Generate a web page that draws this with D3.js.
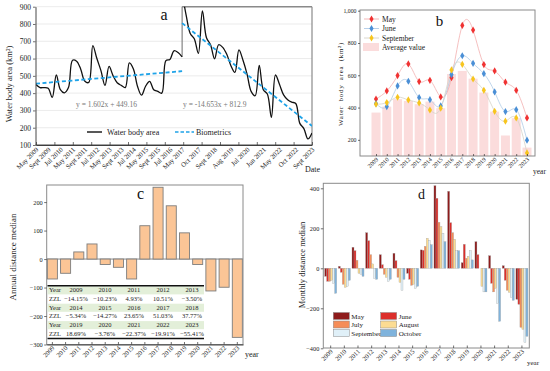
<!DOCTYPE html>
<html><head><meta charset="utf-8">
<script src="https://cdn.jsdelivr.net/npm/d3@7"></script>
<style>body{margin:0;background:#fff}svg{display:block}</style>
</head><body><svg id="chart" width="550" height="371"></svg>
<script>
// ---------------- DATA ----------------
// Panel a
const areaLabels = ["May 2009","Sept 2009","Jul 2010","May 2011","Sept 2011","Jul 2012","May 2013","Sept 2013","Jul 2014","May 2015","Sept 2015","Jul 2016","May 2017","Oct 2017","Sept 2018","Aug 2019","Jul 2020","Jun 2021","May 2022","Oct 2022","Sept 2023"];
const areaLabelIndex = [0,3,6,9,12,15,18,21,24,27,30,33,36,40,44,48,52,56,60,64,68];
const areaEarly = [450,432,432,428,375,505,420,402,432,590,585,540,470,462,675,600,530,445,555,500,460,445,432,575,540,440,388,440,468,420,410,400,588,595,645,635,610];
const areaLate = [980,850,745,715,630,875,720,680,598,680,665,625,560,520,650,590,510,410,385,560,420,395,260,505,450,390,362,348,340,225,195,135,170];
const trendEarlyIdx = [0,36], trendEarlyVal = [455,527];
const trendLateIdx = [36,68], trendLateVal = [805,210];
const aYTicks = [100,200,300,400,500,600,700,800,900];

// Panel b
const years = [2009,2010,2011,2012,2013,2014,2015,2016,2017,2018,2019,2020,2021,2022,2023];
const bMay  = [453,503,598,670,561,569,466,585,909,880,666,627,557,507,336];
const bJune = [425,406,534,563,462,449,410,604,721,674,610,497,375,387,198];
const bSep  = [421,431,464,447,429,385,396,633,668,577,507,377,316,336,119];
const bAvg  = [369,406,452,441,421,437,396,608,627,579,493,375,227,334,152];
const bYTicks = [200,400,600,800,1000];

// Panel c
const cVals = [-70,-50,25,53,-19,-29,-70,117,252,187,92,-19,-112,-99,-275];
const cYTicks = [-300,-200,-100,0,100,200];
const tableYears = [[2009,2010,2011,2012,2013],[2014,2015,2016,2017,2018],[2019,2020,2021,2022,2023]];
const tableZZL = [["−14.15%","−10.23%","4.93%","10.51%","−3.50%"],["−5.34%","−14.27%","23.65%","51.03%","37.77%"],["18.69%","−3.76%","−22.37%","−19.91%","−55.41%"]];

// Panel d
const months = ["May","June","July","August","September","October"];
const dMay  = [-40,10,105,178,68,75,-25,92,413,385,28,133,63,13,-155];
const dJune = [-65,-20,88,138,18,38,-55,90,350,228,120,68,-75,-60,-180];
const dJuly = [-65,-80,40,68,-30,-45,-85,110,230,178,50,0,-118,-110,-295];
const dAug  = [-60,-95,-25,22,-45,-70,-80,150,208,145,60,-90,-100,-120,-305];
const dSep  = [-75,-90,-30,-50,-65,-110,-100,140,175,88,88,-118,-175,-145,-370];
const dOct  = [-125,-60,-40,-55,-55,-55,-90,118,133,88,42,-118,-265,-160,-340];
const dYTicks = [-400,-200,0,200,400];

// ---------------- DRAW ----------------
const serif = '"Liberation Serif","Times New Roman",serif';
const svg = d3.select("#chart").attr("font-family", serif);
const defs = svg.append("defs");
const frameCol = "#8a8a8a";

function styleAxis(sel, size) {
  sel.selectAll("text").attr("font-family", serif).attr("font-size", size).attr("fill", "#222");
  sel.selectAll(".tick line").attr("stroke", "#333").attr("stroke-width", 0.7);
  sel.select(".domain").attr("stroke", "#333").attr("stroke-width", 0.9);
}
function rotLabels(g, data, xf, y, size, txt) {
  g.append("g").selectAll("text").data(data).join("text")
    .attr("transform", d => `translate(${xf(d)},${y}) rotate(-45)`)
    .attr("text-anchor", "end").attr("font-size", size).attr("fill", "#222")
    .text(txt);
}

// ===== Panel a =====
const A = {l: 35.5, r: 312, t: 6.7, b: 145};
const ax = d3.scaleLinear().domain([0, 68]).range([36, 312]);
const ay = d3.scaleLinear().domain([100, 900]).range([A.b, A.t]);
const ga = svg.append("g");
defs.append("clipPath").attr("id", "clipA").append("rect")
  .attr("x", A.l).attr("y", A.t).attr("width", A.r - A.l).attr("height", A.b - A.t);

ga.append("g").selectAll("line").data(aYTicks.filter(v => v > 100)).join("line")
  .attr("x1", A.l).attr("x2", A.r).attr("y1", d => ay(d)).attr("y2", d => ay(d))
  .attr("stroke", "#e6e6e6").attr("stroke-width", 0.8);

ga.append("line").attr("x1", A.r).attr("x2", A.r).attr("y1", A.t).attr("y2", A.b).attr("stroke", frameCol).attr("stroke-width", 1.2);
ga.append("line").attr("x1", ax(36)).attr("x2", A.r).attr("y1", A.t).attr("y2", A.t).attr("stroke", frameCol).attr("stroke-width", 1.5);
ga.append("line").attr("x1", ax(36)).attr("x2", ax(36)).attr("y1", A.t).attr("y2", ay(areaEarly[36])).attr("stroke", "#777").attr("stroke-width", 1.1);

const lineA = d3.line().curve(d3.curveCatmullRom.alpha(0.5));
const clipG = ga.append("g").attr("clip-path", "url(#clipA)");
clipG.append("path").attr("d", lineA(areaEarly.map((v, i) => [ax(i), ay(v)])))
  .attr("fill", "none").attr("stroke", "#111").attr("stroke-width", 1.3);
clipG.append("path").attr("d", lineA(areaLate.map((v, i) => [ax(i + 36), ay(v)])))
  .attr("fill", "none").attr("stroke", "#111").attr("stroke-width", 1.3);
const blue = "#1fa3e8";
[[trendEarlyIdx, trendEarlyVal], [trendLateIdx, trendLateVal]].forEach(([xi, yv]) => {
  clipG.append("path").attr("d", d3.line()(xi.map((x, k) => [ax(x), ay(yv[k])])))
    .attr("fill", "none").attr("stroke", blue).attr("stroke-width", 1.8).attr("stroke-dasharray", "4,2.5");
});

const ayAxis = ga.append("g").attr("transform", `translate(${A.l},0)`)
  .call(d3.axisLeft(ay).tickValues(aYTicks).tickSize(2.5).tickPadding(2).tickSizeOuter(0));
styleAxis(ayAxis, 7.5);
const aTickPos = d3.range(16).map(k => k * 68 / 15);
const axAxis = ga.append("g").attr("transform", `translate(0,${A.b})`)
  .call(d3.axisBottom(ax).tickValues(aTickPos).tickSize(-3).tickFormat("").tickSizeOuter(0));
styleAxis(axAxis, 7);
ga.append("line").attr("x1", A.l).attr("x2", A.r).attr("y1", A.b).attr("y2", A.b).attr("stroke", "#333").attr("stroke-width", 0.9);
rotLabels(ga, d3.zip(areaLabelIndex, areaLabels), d => ax(d[0]) + 3, 150, 6.8, d => d[1]);

ga.append("text").attr("x", 10).attr("y", 84).attr("transform", "rotate(-90,10,84)")
  .attr("text-anchor", "middle").attr("dominant-baseline", "middle").attr("font-size", 8.5).attr("fill", "#222")
  .text("Water body area (km²)");
ga.append("text").attr("x", 305).attr("y", 171.5).attr("font-size", 8).attr("fill", "#222").text("Date");
ga.append("text").attr("x", 164).attr("y", 20).attr("text-anchor", "middle").attr("font-size", 16).attr("fill", "#111").text("a");
ga.append("text").attr("x", 76).attr("y", 107).attr("font-size", 7.5).attr("fill", "#777").text("y = 1.602x + 449.16");
ga.append("text").attr("x", 183).attr("y", 107).attr("font-size", 7.5).attr("fill", "#777").text("y = -14.653x + 812.9");
ga.append("line").attr("x1", 87).attr("x2", 102).attr("y1", 132).attr("y2", 132).attr("stroke", "#111").attr("stroke-width", 1.4);
ga.append("text").attr("x", 107).attr("y", 134.8).attr("font-size", 8).attr("fill", "#222").text("Water body area");
ga.append("line").attr("x1", 175).attr("x2", 194).attr("y1", 132).attr("y2", 132).attr("stroke", blue).attr("stroke-width", 1.6).attr("stroke-dasharray", "3.5,2");
ga.append("text").attr("x", 196).attr("y", 134.8).attr("font-size", 8).attr("fill", "#222").text("Biometrics");

// ===== Panel b =====
const B = {l: 360, r: 535, t: 10, b: 156};
const bx = d3.scalePoint().domain(years).range([376, 527]);
const by = d3.scaleLinear().domain([100, 1000]).range([B.b, 10.7]);
const gb = svg.append("g");
gb.append("g").selectAll("rect").data(bAvg).join("rect")
  .attr("x", (d, i) => bx(years[i]) - 4.5).attr("width", 9)
  .attr("y", d => by(d)).attr("height", d => B.b - by(d)).attr("fill", "#fbdcdc");
const bSeries = [
  {vals: bMay, line: "#f2b0b0", mark: "#f03232"},
  {vals: bJune, line: "#b0cbe6", mark: "#4a8fd6"},
  {vals: bSep, line: "#d6d3c8", mark: "#f7c51e"}
];
const lineB = d3.line().curve(d3.curveNatural);
bSeries.forEach(s => {
  gb.append("path").attr("d", lineB(s.vals.map((v, i) => [bx(years[i]), by(v)])))
    .attr("fill", "none").attr("stroke", s.line).attr("stroke-width", 0.8);
});
const diamond = d3.symbol().type(d3.symbolDiamond).size(15);
bSeries.forEach(s => {
  gb.append("g").selectAll("path").data(s.vals).join("path")
    .attr("transform", (v, i) => `translate(${bx(years[i])},${by(v)})`)
    .attr("d", diamond).attr("fill", s.mark);
});
gb.append("rect").attr("x", B.l).attr("y", B.t).attr("width", B.r - B.l).attr("height", B.b - B.t)
  .attr("fill", "none").attr("stroke", frameCol).attr("stroke-width", 1);
const byAxis = gb.append("g").attr("transform", `translate(${B.l},0)`)
  .call(d3.axisLeft(by).tickValues(bYTicks).tickSize(2).tickPadding(1.5).tickSizeOuter(0));
styleAxis(byAxis, 5.8);
byAxis.select(".domain").remove();
const bxAxis = gb.append("g").attr("transform", `translate(0,${B.b})`)
  .call(d3.axisBottom(bx).tickSize(-2).tickFormat("").tickSizeOuter(0));
styleAxis(bxAxis, 6); bxAxis.select(".domain").remove();
rotLabels(gb, years, d => bx(d) + 2.5, 160, 6, d => d);
gb.append("text").attr("x", 341).attr("y", 84).attr("transform", "rotate(-90,341,84)")
  .attr("text-anchor", "middle").attr("dominant-baseline", "middle").attr("font-size", 7).attr("letter-spacing", 0.7)
  .attr("word-spacing", 2).attr("fill", "#222").text("Water body area (km²)");
gb.append("text").attr("x", 533).attr("y", 174).attr("font-size", 7.5).attr("fill", "#222").text("year");
gb.append("text").attr("x", 439.5).attr("y", 26).attr("text-anchor", "middle").attr("font-size", 15).attr("fill", "#111").text("b");
const bLegNames = ["May", "June", "September"];
bSeries.forEach((s, k) => {
  const y = 19 + k * 9.5;
  gb.append("line").attr("x1", 364).attr("x2", 379).attr("y1", y).attr("y2", y).attr("stroke", s.line).attr("stroke-width", 0.9);
  gb.append("path").attr("transform", `translate(371.5,${y})`).attr("d", diamond).attr("fill", s.mark);
  gb.append("text").attr("x", 382).attr("y", y + 2.6).attr("font-size", 7.5).attr("fill", "#222").text(bLegNames[k]);
});
gb.append("rect").attr("x", 363).attr("y", 43).attr("width", 16).attr("height", 8).attr("fill", "#fbdcdc");
gb.append("text").attr("x", 382).attr("y", 49.6).attr("font-size", 7.5).attr("fill", "#222").text("Average value");

// ===== Panel c =====
const C = {l: 46.7, r: 243, t: 185, b: 344.5};
const cx = d3.scaleBand().domain(years).range([C.l, C.r]).paddingInner(0.24).paddingOuter(0.05);
const cy = d3.scaleLinear().domain([-300, 260]).range([C.b, C.t]);
const gc = svg.append("g");
gc.append("line").attr("x1", C.l).attr("x2", C.r).attr("y1", cy(0)).attr("y2", cy(0)).attr("stroke", "#8a8a8a").attr("stroke-width", 1);
gc.append("g").selectAll("rect").data(cVals).join("rect")
  .attr("x", (d, i) => cx(years[i])).attr("width", cx.bandwidth())
  .attr("y", d => Math.min(cy(0), cy(d))).attr("height", d => Math.abs(cy(d) - cy(0)))
  .attr("fill", "#fbc596").attr("stroke", "#7d7d7d").attr("stroke-width", 0.9);
gc.append("rect").attr("x", C.l).attr("y", C.t).attr("width", C.r - C.l).attr("height", C.b - C.t)
  .attr("fill", "none").attr("stroke", frameCol).attr("stroke-width", 1);
const cyAxis = gc.append("g").attr("transform", `translate(${C.l},0)`)
  .call(d3.axisLeft(cy).tickValues(cYTicks).tickSize(2.5).tickPadding(1.5).tickSizeOuter(0));
styleAxis(cyAxis, 6.3); cyAxis.select(".domain").remove();
const cxAxis = gc.append("g").attr("transform", `translate(0,${C.b})`)
  .call(d3.axisBottom(cx).tickSize(-2.5).tickFormat("").tickSizeOuter(0));
styleAxis(cxAxis, 6); cxAxis.select(".domain").attr("stroke", "#333");
rotLabels(gc, years, d => cx(d) + cx.bandwidth() / 2 + 2.5, 348.5, 6.5, d => d);
gc.append("text").attr("x", 13.5).attr("y", 257).attr("transform", "rotate(-90,13.5,257)")
  .attr("text-anchor", "middle").attr("dominant-baseline", "middle").attr("font-size", 9).attr("fill", "#222")
  .text("Annual distance median");
gc.append("text").attr("x", 245).attr("y", 356.5).attr("font-size", 8).attr("fill", "#222").text("year");
gc.append("text").attr("x", 140.5).attr("y", 198.5).attr("text-anchor", "middle").attr("font-size", 16).attr("fill", "#111").text("c");
const T = {l: 47.5, r: 204, t: 285.7, rowH: 8.7};
const tx = d3.scalePoint().domain(d3.range(5)).range([76, 192]);
const rowsT = [];
tableYears.forEach((yrs, k) => { rowsT.push({head: "Year", cells: yrs, green: true}); rowsT.push({head: "ZZL", cells: tableZZL[k], green: false}); });
const ty = d3.scaleBand().domain(d3.range(rowsT.length)).range([T.t, T.t + T.rowH * rowsT.length]);
const tg = gc.append("g");
tg.selectAll("rect").data(rowsT.filter(r => r.green)).join("rect")
  .attr("x", T.l).attr("width", T.r - T.l)
  .attr("y", d => ty(rowsT.indexOf(d)) + 0.6).attr("height", ty.bandwidth() - 0.6).attr("fill", "#e3efd9");
rowsT.forEach((r, k) => {
  const yy = ty(k) + ty.bandwidth() / 2 + 2.3;
  tg.append("text").attr("x", 49).attr("y", yy).attr("font-size", 6.5).attr("fill", "#222").text(r.head);
  tg.append("g").selectAll("text").data(r.cells).join("text")
    .attr("x", (d, i) => tx(i)).attr("y", yy).attr("text-anchor", "middle").attr("font-size", 6.5).attr("fill", "#222").text(d => d);
});
tg.append("line").attr("x1", T.l).attr("x2", T.r).attr("y1", T.t).attr("y2", T.t).attr("stroke", "#111").attr("stroke-width", 1.5);
tg.append("line").attr("x1", T.l).attr("x2", T.r).attr("y1", T.t + T.rowH * 6 + 0.5).attr("y2", T.t + T.rowH * 6 + 0.5).attr("stroke", "#111").attr("stroke-width", 1.5);

// ===== Panel d =====
const D = {l: 323.3, r: 529.3, t: 183.3, b: 348};
const dSeries = [dMay, dJune, dJuly, dAug, dSep, dOct];
const dColors = ["#8e1b1b", "#dc2e2a", "#f58d58", "#fcdc92", "#e0f0f8", "#7fb3dc"];
const dx0 = d3.scaleBand().domain(years).range([D.l, D.r]).paddingInner(0.12).paddingOuter(0.1);
const dx1 = d3.scaleBand().domain(months).range([0, dx0.bandwidth()]);
const dy = d3.scaleLinear().domain([-400, 425]).range([348.3, 183.3]);
const gd = svg.append("g");
months.forEach((m, k) => {
  gd.append("g").selectAll("rect").data(dSeries[k]).join("rect")
    .attr("x", (d, i) => dx0(years[i]) + dx1(m)).attr("width", dx1.bandwidth())
    .attr("y", d => Math.min(dy(0), dy(d))).attr("height", d => Math.abs(dy(d) - dy(0)))
    .attr("fill", dColors[k]).attr("stroke", "#9a9a9a").attr("stroke-width", 0.3);
});
gd.append("rect").attr("x", D.l).attr("y", D.t).attr("width", D.r - D.l).attr("height", D.b - D.t)
  .attr("fill", "none").attr("stroke", frameCol).attr("stroke-width", 1);
const dyAxis = gd.append("g").attr("transform", `translate(${D.l},0)`)
  .call(d3.axisLeft(dy).tickValues(dYTicks).tickSize(2.5).tickPadding(1.5).tickSizeOuter(0));
styleAxis(dyAxis, 6.3); dyAxis.select(".domain").remove();
const dxAxis = gd.append("g").attr("transform", `translate(0,${D.b})`)
  .call(d3.axisBottom(dx0).tickSize(-2.5).tickFormat("").tickSizeOuter(0));
styleAxis(dxAxis, 6); dxAxis.select(".domain").remove();
rotLabels(gd, years, d => dx0(d) + dx0.bandwidth() / 2 + 2.5, 352, 6.5, d => d);
gd.append("text").attr("x", 302.7).attr("y", 265).attr("transform", "rotate(-90,302.7,265)")
  .attr("text-anchor", "middle").attr("dominant-baseline", "middle").attr("font-size", 8.5).attr("fill", "#222")
  .text("Monthly distance median");
gd.append("text").attr("x", 527).attr("y", 364.5).attr("font-size", 7).attr("fill", "#222").text("year");
gd.append("text").attr("x", 421.5).attr("y", 199.3).attr("text-anchor", "middle").attr("font-size", 14).attr("fill", "#111").text("d");
months.forEach((m, k) => {
  const col = k % 2, row = Math.floor(k / 2);
  const x = 333.3 + col * 47.4, y = 312.5 + row * 8.5;
  gd.append("rect").attr("x", x).attr("y", y).attr("width", 16).attr("height", 7)
    .attr("fill", dColors[k]).attr("stroke", "#8a8a8a").attr("stroke-width", 0.5);
  gd.append("text").attr("x", x + 18).attr("y", y + 6).attr("font-size", 7).attr("fill", "#222").text(m);
});
</script></body></html>
